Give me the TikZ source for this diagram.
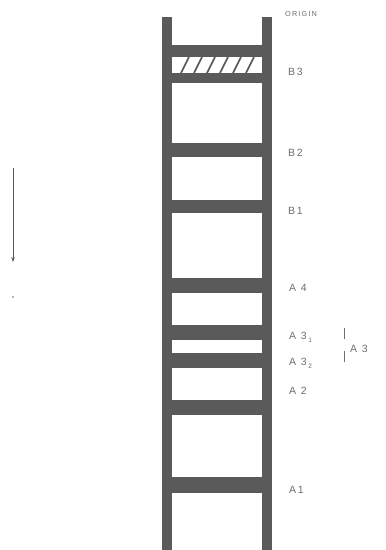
\documentclass[tikz,border=0pt]{standalone}
\usepackage{fontspec}
\setmainfont{Liberation Sans}
\newfontfamily\lbl[LetterSpace=16]{Liberation Sans}
\usetikzlibrary{arrows.meta}
\definecolor{ink}{HTML}{5A5A5A}
\definecolor{txt}{HTML}{6E6E6E}
\begin{document}
\begin{tikzpicture}[x=1pt,y=-1pt,
  lab/.style={anchor=base west,inner sep=0pt,text=txt,font=\lbl\fontsize{10.5}{12}\selectfont},
  small/.style={anchor=base west,inner sep=0pt,text=txt,font=\lbl\fontsize{7.3}{8}\selectfont},
  tick/.style={draw=txt,line width=0.8pt},
  rail/.style={fill=ink},
  hatchline/.style={draw=ink,line width=1.7pt}]
\useasboundingbox (0,0) rectangle (386,550);
\fill[white] (0,0) rectangle (386,550);
% rails
\fill[rail] (162,17) rectangle (172,550);
\fill[rail] (262,17) rectangle (272,550);
% rungs
\foreach \a/\b in {45/57,73/83,143/157,200/213,278/293,325/340,353/368,400/415,477/493}
  \fill[rail] (171,\a) rectangle (263,\b);
% hatching in B3
\foreach \x in {181,194,207,220,233,246}
  \draw[hatchline] (\x,73) -- (\x+8,57);
% labels
\newcommand{\sbs}[1]{\raisebox{-0.45ex}{\fontsize{6.5}{7}\selectfont #1}}
\node[small] (origin) at (285,16.8) {ORIGIN};
\node[lab] (b3) at (288,75.8) {B3};
\node[lab] (b2) at (288,156.8) {B2};
\node[lab] (b1) at (288,214.8) {B1};
\node[lab] (a4) at (289,291.8) {A 4};
\node[lab] (a31) at (289,339.8) {A 3\,\sbs{1}};
\node[lab] (a32) at (289,365.8) {A 3\,\sbs{2}};
\node[lab] (a2) at (289,394.8) {A 2};
\node[lab] (a1) at (289,493.8) {A1};
\node[lab] (a3) at (350,352.8) {A 3};
% brace ticks
\coordinate (t1a) at (344,328); \coordinate (t1b) at (344,339);
\coordinate (t2a) at (344,351); \coordinate (t2b) at (344,362);
\draw[tick] (t1a) -- (t1b);
\draw[tick] (t2a) -- (t2b);
% direction arrow
\coordinate (arrA) at (13,168);
\coordinate (arrB) at (13,262);
\draw[ink,line width=0.8pt,-{Stealth[length=5pt,width=3.5pt]}] (arrA) -- (arrB);
\fill[txt] (13,297) circle (0.8);
\end{tikzpicture}
\end{document}
